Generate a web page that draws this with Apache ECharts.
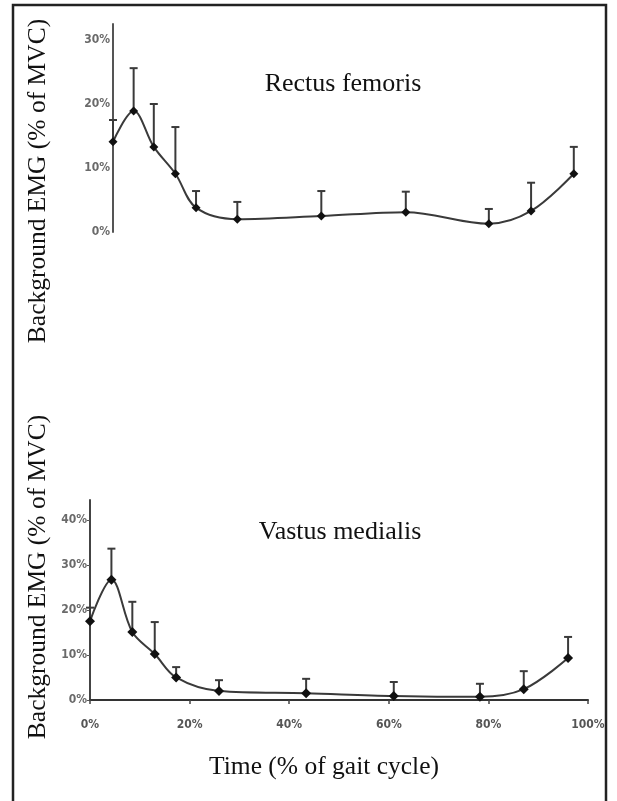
<!DOCTYPE html>
<html>
<head>
<meta charset="utf-8">
<script src="https://cdn.jsdelivr.net/npm/echarts@6/dist/echarts.min.js"></script>
<style>
html,body{margin:0;padding:0;background:#fff;}
#chart{width:617px;height:801px;}
</style>
</head>
<body>
<div id="chart"></div>
<script>
// Time points (% of gait cycle)
const timePct = [0, 4.3, 8.5, 13, 17.3, 25.9, 43.4, 61, 78.3, 87.1, 96];
// Rectus femoris: mean and mean+SD (% of MVC)
const rfMean  = [14.1, 18.9, 13.3, 9.1, 3.8, 2.0, 2.5, 3.1, 1.3, 3.3, 9.1];
const rfUpper = [17.5, 25.6, 20.0, 16.4, 6.4, 4.7, 6.4, 6.3, 3.6, 7.7, 13.3];
// Vastus medialis: mean and mean+SD (% of MVC)
const vmMean  = [17.5, 26.7, 15.1, 10.2, 5.0, 2.0, 1.5, 0.9, 0.7, 2.4, 9.3];
const vmUpper = [20.5, 33.6, 21.8, 17.3, 7.3, 4.4, 4.7, 4.0, 3.6, 6.4, 14.0];
// Tick labels
const rfYTicks = [0, 10, 20, 30];
const vmYTicks = [0, 10, 20, 30, 40];
const xTicks = [0, 20, 40, 60, 80, 100];

const titleTop = 'Rectus femoris';
const titleBottom = 'Vastus medialis';
const yTitle = 'Background EMG (% of MVC)';
const xTitle = 'Time (% of gait cycle)';

const chart = echarts.init(document.getElementById('chart'), null, {renderer: 'canvas'});

const lineData = (means) => timePct.map((t, i) => [t, means[i]]);
const errData = (means, ups) => timePct.map((t, i) => [t, means[i], ups[i]]);

function errRender(params, api) {
  const x = api.value(0), m = api.value(1), u = api.value(2);
  const p1 = api.coord([x, m]);
  const p2 = api.coord([x, u]);
  const st = {stroke: '#3a3a3a', lineWidth: 2};
  return {
    type: 'group',
    children: [
      {type: 'line', shape: {x1: p1[0], y1: p1[1], x2: p2[0], y2: p2[1]}, style: st},
      {type: 'line', shape: {x1: p2[0] - 4, y1: p2[1], x2: p2[0] + 4, y2: p2[1]}, style: st}
    ]
  };
}

const tickFont = 'DejaVu Sans Condensed, DejaVu Sans, sans-serif';
const serif = 'Liberation Serif, DejaVu Serif, serif';

const option = {
  animation: false,
  backgroundColor: '#fff',
  grid: [
    {left: 113, top: 24, width: 480, height: 208},
    {left: 90, top: 500, width: 498, height: 200}
  ],
  xAxis: [
    {gridIndex: 0, type: 'value', min: 0, max: 100, show: false},
    {
      gridIndex: 1, type: 'value', min: 0, max: 100, interval: 20,
      splitLine: {show: false},
      axisLine: {show: true, lineStyle: {color: '#333', width: 2}},
      axisTick: {show: true, length: 4, lineStyle: {color: '#444', width: 1.5}, customValues: xTicks},
      axisLabel: {
        customValues: xTicks,
        formatter: v => v + '%', margin: 19,
        fontFamily: tickFont, fontWeight: 'bold', fontSize: 12, color: '#555'
      }
    }
  ],
  yAxis: [
    {
      gridIndex: 0, type: 'value', min: 0, max: 32.5,
      splitLine: {show: false},
      axisLine: {show: true, lineStyle: {color: '#555', width: 2}},
      axisTick: {show: false},
      axisLabel: {
        customValues: rfYTicks,
        formatter: v => (v % 10 === 0 ? v + '%' : ''), margin: 3,
        fontFamily: tickFont, fontWeight: 'bold', fontSize: 12, color: '#6a6a6a'
      }
    },
    {
      gridIndex: 1, type: 'value', min: 0, max: 44.4,
      splitLine: {show: false},
      axisLine: {show: true, lineStyle: {color: '#444', width: 2}},
      axisTick: {show: true, length: 3, lineStyle: {color: '#555', width: 1}, customValues: vmYTicks},
      axisLabel: {
        customValues: vmYTicks,
        formatter: v => (v % 10 === 0 ? v + '%' : ''), margin: 3,
        fontFamily: tickFont, fontWeight: 'bold', fontSize: 12, color: '#6a6a6a'
      }
    }
  ],
  series: [
    {
      type: 'custom', xAxisIndex: 0, yAxisIndex: 0, z: 1,
      renderItem: errRender, data: errData(rfMean, rfUpper)
    },
    {
      type: 'line', xAxisIndex: 0, yAxisIndex: 0, z: 3,
      smooth: 0.35, symbol: 'diamond', symbolSize: 9,
      itemStyle: {color: '#111'},
      lineStyle: {color: '#3a3a3a', width: 2},
      data: lineData(rfMean)
    },
    {
      type: 'custom', xAxisIndex: 1, yAxisIndex: 1, z: 1,
      renderItem: errRender, data: errData(vmMean, vmUpper)
    },
    {
      type: 'line', xAxisIndex: 1, yAxisIndex: 1, z: 3,
      smooth: 0.35, symbol: 'diamond', symbolSize: 10,
      itemStyle: {color: '#111'},
      lineStyle: {color: '#3a3a3a', width: 2},
      data: lineData(vmMean)
    }
  ],
  graphic: [
    {type: 'rect', z: 100, silent: true,
      shape: {x: 13, y: 5, width: 593, height: 830},
      style: {fill: 'none', stroke: '#222', lineWidth: 2.5}},
    {type: 'text', x: 343, y: 84, z: 100,
      style: {text: titleTop, font: '26px ' + serif, fill: '#111', textAlign: 'center', textVerticalAlign: 'middle'}},
    {type: 'text', x: 340, y: 532, z: 100,
      style: {text: titleBottom, font: '26px ' + serif, fill: '#111', textAlign: 'center', textVerticalAlign: 'middle'}},
    {type: 'text', x: 38, y: 181, rotation: Math.PI / 2, z: 100,
      style: {text: yTitle, font: '25.5px ' + serif, fill: '#111', textAlign: 'center', textVerticalAlign: 'middle'}},
    {type: 'text', x: 38, y: 577, rotation: Math.PI / 2, z: 100,
      style: {text: yTitle, font: '25.5px ' + serif, fill: '#111', textAlign: 'center', textVerticalAlign: 'middle'}},
    {type: 'text', x: 324, y: 767, z: 100,
      style: {text: xTitle, font: '25.5px ' + serif, fill: '#111', textAlign: 'center', textVerticalAlign: 'middle'}}
  ]
};

chart.setOption(option);
</script>
</body>
</html>
